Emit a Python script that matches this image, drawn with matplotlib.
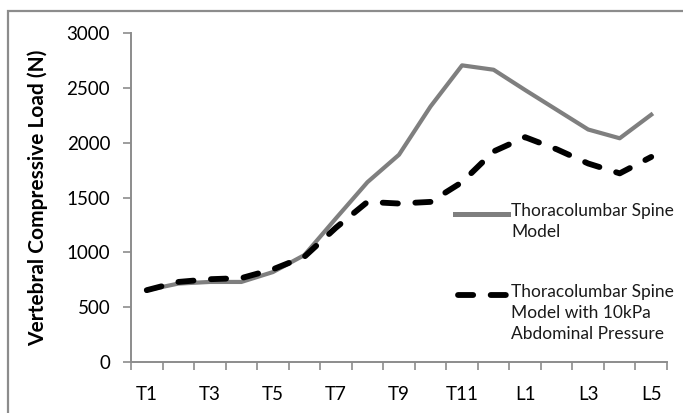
import matplotlib
matplotlib.use("Agg")
import matplotlib.pyplot as plt
from matplotlib.patches import Rectangle
from matplotlib.lines import Line2D

plt.rcParams['font.family'] = ['Lato', 'DejaVu Sans']

levels = ["T1", "T2", "T3", "T4", "T5", "T6", "T7", "T8", "T9", "T10", "T11", "T12",
          "L1", "L2", "L3", "L4", "L5"]
spine_model = [655, 715, 730, 730, 820, 975, 1310, 1640, 1890, 2330, 2705, 2665,
               2480, 2300, 2120, 2040, 2255]
spine_model_pressure = [655, 730, 755, 765, 845, 960, 1225, 1460, 1445, 1460, 1640, 1920,
                        2050, 1940, 1810, 1720, 1870]
tick_labels = ["T1", "T3", "T5", "T7", "T9", "T11", "L1", "L3", "L5"]
y_ticks = [0, 500, 1000, 1500, 2000, 2500, 3000]
series_labels = ["Thoracolumbar Spine\nModel",
                 "Thoracolumbar Spine\nModel with 10kPa\nAbdominal Pressure"]

GRAY = '#7f7f7f'
AXC = '#8c8c8c'
LW_GRAY = 3.0
LW_DASH = 4.2
DASH = (2.6, 3.0)

W, H = 683, 413
fig = plt.figure(figsize=(W / 100, H / 100), dpi=100)
ax = fig.add_axes([131 / W, 1 - 362 / H, (667 - 131) / W, (362 - 33) / H])

# outer frame (extends beyond the image on right/bottom)
fig.patches.append(Rectangle((8 / W, -0.2), 1.5, 1 - 11 / H + 0.2, transform=fig.transFigure,
                             fill=False, edgecolor=AXC, linewidth=1.6))

x = list(range(len(levels)))
ax.plot(x, spine_model, color=GRAY, linewidth=LW_GRAY)
ax.plot(x, spine_model_pressure, color='black', linewidth=LW_DASH, dashes=DASH,
        dash_capstyle='round')

ax.set_xlim(-0.5, len(levels) - 0.5)
ax.set_ylim(0, 3000)
ax.set_yticks(y_ticks)
ax.set_yticklabels([str(v) for v in y_ticks])

# category boundary tick marks, labels at every other category
ax.set_xticks([i - 0.5 for i in range(len(levels) + 1)])
ax.set_xticklabels([])
ax.set_xticks([levels.index(l) for l in tick_labels], minor=True)
ax.set_xticklabels(tick_labels, minor=True)
ax.tick_params(axis='x', which='major', length=6, width=1.2, color=AXC, direction='out')
ax.tick_params(axis='x', which='minor', length=0, pad=17, labelsize=13.5)
ax.tick_params(axis='y', length=6, width=1.2, color=AXC, labelsize=13.5, pad=9)

for s in ['top', 'right']:
    ax.spines[s].set_visible(False)
for s in ['left', 'bottom']:
    ax.spines[s].set_color(AXC)
    ax.spines[s].set_linewidth(1.4)

ax.set_ylabel("Vertebral Compressive Load (N)", fontsize=15, fontweight='bold')
ax.yaxis.set_label_coords((48 - 131) / 536, 0.5)

# legend drawn by hand: handle aligned with the first text line
def px(xp, yp):
    return xp / W, 1 - yp / H

for (y0, lab, style) in [(214, series_labels[0], 'solid'), (294.5, series_labels[1], 'dash')]:
    x0, yy = px(455, y0)
    x1, _ = px(508, y0)
    if style == 'solid':
        ln = Line2D([x0, x1], [yy, yy], color=GRAY, linewidth=LW_GRAY + 0.6,
                    transform=fig.transFigure)
    else:
        ln = Line2D([x0 + 2.5 / W, x1], [yy, yy], color='black', linewidth=LW_DASH,
                    dashes=DASH, dash_capstyle='round', transform=fig.transFigure)
    fig.add_artist(ln)
    tx, ty = px(511, y0 - 11)
    fig.text(tx, ty, lab, fontsize=12.5, va='top', ha='left', linespacing=1.4, color='#1a1a1a')

fig.savefig("out.png", dpi=100)
